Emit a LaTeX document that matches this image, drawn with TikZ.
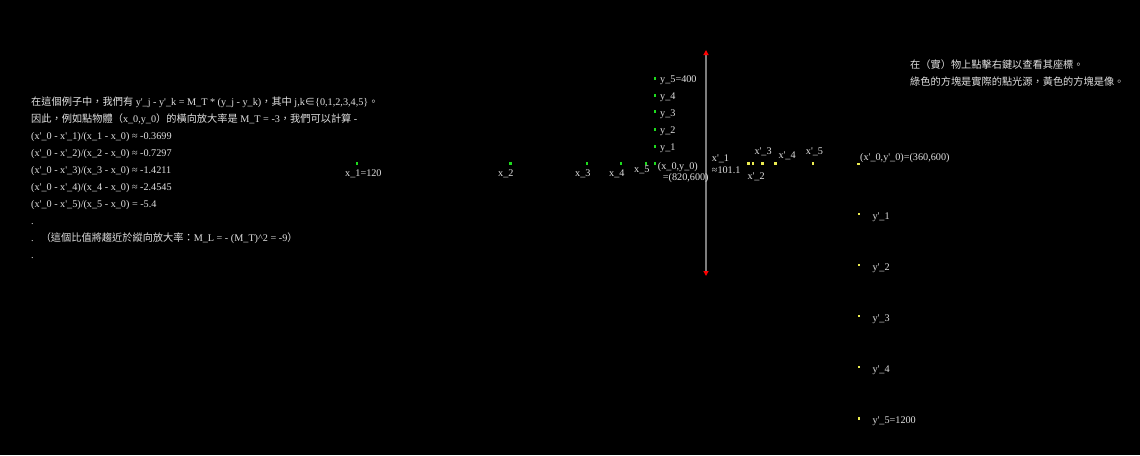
\documentclass[tikz,border=0pt]{standalone}
\usepackage{fontspec}
\setmainfont{Liberation Serif}
\newfontfamily\cjk{Noto Sans CJK TC}
\usetikzlibrary{arrows.meta}
\newcommand\zh[1]{{\cjk #1}}
\newcommand\ap{\textquotesingle}
\definecolor{txt}{RGB}{225,225,225}
\definecolor{gsrc}{RGB}{30,220,30}
\definecolor{yimg}{RGB}{235,235,80}
\definecolor{axisgray}{RGB}{125,125,125}
\begin{document}
\begin{tikzpicture}[x=1pt,y=-1pt,
  lbl/.style={anchor=base west, inner sep=0pt, text=txt, font=\fontsize{10.2}{12}\selectfont},
  gdot/.style={fill=gsrc, minimum width=2.2pt, minimum height=3pt, inner sep=0pt, outer sep=0pt},
  ydot/.style={fill=yimg, minimum width=2.6pt, minimum height=2.6pt, inner sep=0pt, outer sep=0pt},
  axisline/.style={draw=axisgray, line width=1.8pt, {Triangle[color=red,length=5pt,width=5pt]}-{Triangle[color=red,length=5pt,width=5pt]}}]
\useasboundingbox[fill=black] (0,0) rectangle (1140,455);

% left explanatory text
\node[lbl] (t1) at (31,105) {\zh{在這個例子中，我們有} y\ap\_j - y\ap\_k = M\_T * (y\_j - y\_k)\zh{，其中} j,k\zh{∈}\{0,1,2,3,4,5\}\zh{。}};
\node[lbl] (t2) at (31,122) {\zh{因此，例如點物體（}x\_0,y\_0\zh{）的橫向放大率是} M\_T = -3\zh{，我們可以計算} -};
\node[lbl] (t3) at (31,139) {(x\ap\_0 - x\ap\_1)/(x\_1 - x\_0) ≈ -0.3699};
\node[lbl] (t4) at (31,156) {(x\ap\_0 - x\ap\_2)/(x\_2 - x\_0) ≈ -0.7297};
\node[lbl] (t5) at (31,173) {(x\ap\_0 - x\ap\_3)/(x\_3 - x\_0) ≈ -1.4211};
\node[lbl] (t6) at (31,190) {(x\ap\_0 - x\ap\_4)/(x\_4 - x\_0) ≈ -2.4545};
\node[lbl] (t7) at (31,207) {(x\ap\_0 - x\ap\_5)/(x\_5 - x\_0) = -5.4};
\node[lbl] (t8) at (31,224) {.};
\node[lbl] (t9) at (31,241) {.\hspace{7pt}\zh{（這個比值將趨近於縱向放大率：}M\_L = - (M\_T)\textasciicircum 2 = -9\zh{）}};
\node[lbl] (t10) at (31,258) {.};

% top right text
\node[lbl] (r1) at (910,68.5) {\zh{在（實）物上點擊右鍵以查看其座標。}};
\node[lbl] (r2) at (910,85) {\zh{綠色的方塊是實際的點光源，黃色的方塊是像。}};

% optical axis
\coordinate (atop) at (706,50);
\coordinate (abot) at (706,276);
\draw[axisline] (abot) -- (atop);

% source points (green)
\node[gdot] (x1) at (356.7,163.3) {};
\node[gdot] (x2) at (510.5,163.3) {};
\node[gdot] (x3) at (586.7,163.3) {};
\node[gdot] (x4) at (620.7,163.3) {};
\node[gdot] (x5) at (646,163.3) {};
\node[gdot] (x0) at (655,163.3) {};
\node[gdot] (y1) at (655,146.7) {};
\node[gdot] (y2) at (655,129.3) {};
\node[gdot] (y3) at (655,111.7) {};
\node[gdot] (y4) at (655,95) {};
\node[gdot] (y5) at (655,78.3) {};

\node[lbl] (lx1) at (345,176.5) {x\_1=120};
\node[lbl] (lx2) at (498,176.5) {x\_2};
\node[lbl] (lx3) at (575,176.5) {x\_3};
\node[lbl] (lx4) at (609,176.5) {x\_4};
\node[lbl] (lx5) at (634,172.5) {x\_5};
\node[lbl] (lx0a) at (657.7,169.5) {(x\_0,y\_0)};
\node[lbl] (lx0b) at (662.7,180) {=(820,600)};
\node[lbl] (ly5) at (660,82.5) {y\_5=400};
\node[lbl] (ly4) at (660,99.5) {y\_4};
\node[lbl] (ly3) at (660,116.5) {y\_3};
\node[lbl] (ly2) at (660,133.5) {y\_2};
\node[lbl] (ly1) at (660,150.5) {y\_1};

% image points (yellow)
\node[ydot] (xp1a) at (748.7,163.3) {};
\node[ydot] (xp1b) at (753,163.3) {};
\node[ydot] (xp3) at (762.7,163.3) {};
\node[ydot] (xp4) at (775.7,163.3) {};
\node[ydot] (xp5) at (813,163.3) {};
\node[ydot] (xp0) at (858.7,164) {};
\node[ydot] (yp1) at (859,214) {};
\node[ydot] (yp2) at (859,265) {};
\node[ydot] (yp3) at (859,316) {};
\node[ydot] (yp4) at (859,367) {};
\node[ydot] (yp5) at (859,418.3) {};

\node[lbl] (lxp1a) at (711.7,161) {x\ap\_1};
\node[lbl] (lxp1b) at (711.7,173.5) {≈101.1};
\node[lbl] (lxp3) at (754.3,154.5) {x\ap\_3};
\node[lbl] (lxp4) at (778.3,158.5) {x\ap\_4};
\node[lbl] (lxp5) at (805.7,154.5) {x\ap\_5};
\node[lbl] (lxp2) at (747.3,179.5) {x\ap\_2};
\node[lbl] (lxp0) at (860,160) {(x\ap\_0,y\ap\_0)=(360,600)};
\node[lbl] (lyp1) at (872.3,219.5) {y\ap\_1};
\node[lbl] (lyp2) at (872.3,270.5) {y\ap\_2};
\node[lbl] (lyp3) at (872.3,321.5) {y\ap\_3};
\node[lbl] (lyp4) at (872.3,372.5) {y\ap\_4};
\node[lbl] (lyp5) at (872.3,423.5) {y\ap\_5=1200};
\end{tikzpicture}
\end{document}
